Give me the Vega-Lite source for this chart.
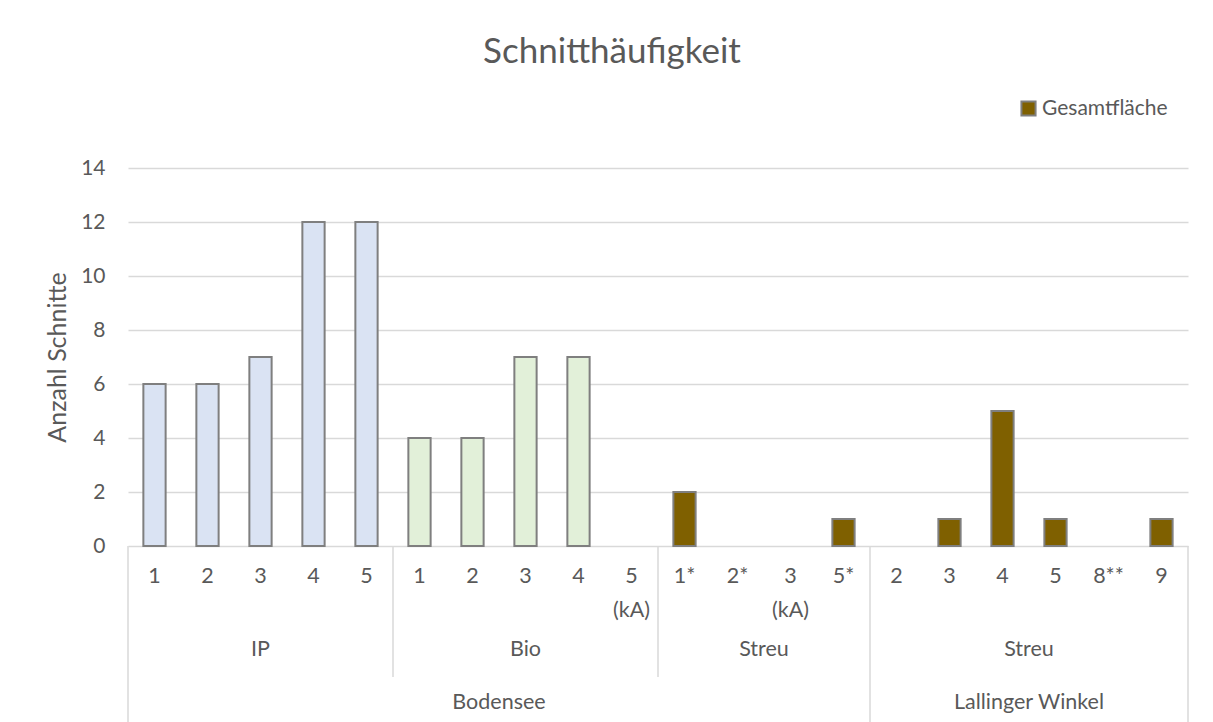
{
  "$schema": "https://vega.github.io/schema/vega-lite/v6.json",
  "width": 1060,
  "height": 378,
  "autosize": {"type": "none"},
  "padding": {"left": 128, "top": 168, "right": 25, "bottom": 176},
  "background": "white",
  "title": {
    "text": "Schnitthäufigkeit",
    "frame": "group",
    "anchor": "middle",
    "dx": -46,
    "offset": 0,
    "baseline": "alphabetic",
    "font": "Lato",
    "fontSize": 35,
    "fontWeight": "normal",
    "color": "#595959"
  },
  "config": {"view": {"stroke": null}, "font": "Lato"},
  "datasets": {
    "balken": [
      {"key": "01", "region": "Bodensee", "gruppe": "IP", "label": "1", "n": 6, "serie": "Gesamtfläche"},
      {"key": "02", "region": "Bodensee", "gruppe": "IP", "label": "2", "n": 6, "serie": "Gesamtfläche"},
      {"key": "03", "region": "Bodensee", "gruppe": "IP", "label": "3", "n": 7, "serie": "Gesamtfläche"},
      {"key": "04", "region": "Bodensee", "gruppe": "IP", "label": "4", "n": 12, "serie": "Gesamtfläche"},
      {"key": "05", "region": "Bodensee", "gruppe": "IP", "label": "5", "n": 12, "serie": "Gesamtfläche"},
      {"key": "06", "region": "Bodensee", "gruppe": "Bio", "label": "1", "n": 4, "serie": "Gesamtfläche"},
      {"key": "07", "region": "Bodensee", "gruppe": "Bio", "label": "2", "n": 4, "serie": "Gesamtfläche"},
      {"key": "08", "region": "Bodensee", "gruppe": "Bio", "label": "3", "n": 7, "serie": "Gesamtfläche"},
      {"key": "09", "region": "Bodensee", "gruppe": "Bio", "label": "4", "n": 7, "serie": "Gesamtfläche"},
      {"key": "10", "region": "Bodensee", "gruppe": "Bio", "label": "5\n(kA)", "n": 0, "serie": "Gesamtfläche"},
      {"key": "11", "region": "Bodensee", "gruppe": "Streu", "label": "1*", "n": 2, "serie": "Gesamtfläche"},
      {"key": "12", "region": "Bodensee", "gruppe": "Streu", "label": "2*", "n": 0, "serie": "Gesamtfläche"},
      {"key": "13", "region": "Bodensee", "gruppe": "Streu", "label": "3\n(kA)", "n": 0, "serie": "Gesamtfläche"},
      {"key": "14", "region": "Bodensee", "gruppe": "Streu", "label": "5*", "n": 1, "serie": "Gesamtfläche"},
      {"key": "15", "region": "Lallinger Winkel", "gruppe": "Streu", "label": "2", "n": 0, "serie": "Gesamtfläche"},
      {"key": "16", "region": "Lallinger Winkel", "gruppe": "Streu", "label": "3", "n": 1, "serie": "Gesamtfläche"},
      {"key": "17", "region": "Lallinger Winkel", "gruppe": "Streu", "label": "4", "n": 5, "serie": "Gesamtfläche"},
      {"key": "18", "region": "Lallinger Winkel", "gruppe": "Streu", "label": "5", "n": 1, "serie": "Gesamtfläche"},
      {"key": "19", "region": "Lallinger Winkel", "gruppe": "Streu", "label": "8**", "n": 0, "serie": "Gesamtfläche"},
      {"key": "20", "region": "Lallinger Winkel", "gruppe": "Streu", "label": "9", "n": 1, "serie": "Gesamtfläche"}
    ],
    "gruppen": [
      {"key": "03", "name": "IP", "ebene": "Gruppe", "lage": "mitte"},
      {"key": "08", "name": "Bio", "ebene": "Gruppe", "lage": "mitte"},
      {"key": "12", "name": "Streu", "ebene": "Gruppe", "lage": "grenze"},
      {"key": "17", "name": "Streu", "ebene": "Gruppe", "lage": "grenze"},
      {"key": "07", "name": "Bodensee", "ebene": "Region", "lage": "grenze"},
      {"key": "17", "name": "Lallinger Winkel", "ebene": "Region", "lage": "grenze"}
    ],
    "trenner": [
      {"key": "05", "ebene": "Gruppe", "seite": "rechts"},
      {"key": "10", "ebene": "Gruppe", "seite": "rechts"},
      {"key": "14", "ebene": "Region", "seite": "rechts"},
      {"key": "20", "ebene": "Region", "seite": "rechts"},
      {"key": "01", "ebene": "Region", "seite": "links"}
    ]
  },
  "layer": [
    {
      "data": {"name": "balken"},
      "transform": [{"filter": "datum.n > 0"}],
      "mark": {"type": "bar", "width": {"band": 0.42}, "strokeWidth": 2},
      "encoding": {
        "x": {
          "field": "key",
          "type": "nominal",
          "scale": {
            "domain": ["01","02","03","04","05","06","07","08","09","10","11","12","13","14","15","16","17","18","19","20"],
            "paddingInner": 0,
            "paddingOuter": 0
          },
          "axis": null
        },
        "y": {
          "field": "n",
          "type": "quantitative",
          "scale": {"domain": [0, 14], "nice": false},
          "axis": {
            "values": [0, 2, 4, 6, 8, 10, 12, 14],
            "title": "Anzahl Schnitte",
            "grid": true,
            "gridColor": "#D9D9D9",
            "gridWidth": 1.5,
            "domain": false,
            "ticks": false,
            "labelPadding": 23,
            "labelFont": "Lato",
            "labelFontSize": 21,
            "labelColor": "#595959",
            "titleFont": "Lato",
            "titleFontSize": 25,
            "titleFontWeight": "normal",
            "titleColor": "#595959",
            "titlePadding": 10
          }
        },
        "fill": {
          "field": "gruppe",
          "type": "nominal",
          "scale": {"domain": ["IP", "Bio", "Streu"], "range": ["#DAE3F3", "#E2F0D9", "#7F6000"]},
          "legend": null
        },
        "stroke": {
          "field": "serie",
          "type": "nominal",
          "scale": {"range": ["#7F7F7F"]},
          "legend": {
            "title": null,
            "orient": "none",
            "legendX": 890,
            "legendY": -70,
            "symbolType": "square",
            "symbolFillColor": "#7F6000",
            "symbolSize": 200,
            "symbolStrokeWidth": 2,
            "labelFont": "Lato",
            "labelFontSize": 21,
            "labelColor": "#595959",
            "labelOffset": 3
          }
        }
      }
    },
    {
      "data": {"name": "balken"},
      "mark": {"type": "text", "baseline": "top", "lineBreak": "\n", "lineHeight": 34, "fontSize": 21.5, "color": "#595959", "font": "Lato"},
      "encoding": {
        "x": {"field": "key", "type": "nominal"},
        "y": {"datum": -0.74},
        "text": {"field": "label"}
      }
    },
    {
      "data": {"name": "gruppen"},
      "transform": [{"filter": "datum.ebene == 'Gruppe' && datum.lage == 'mitte'"}],
      "mark": {"type": "text", "baseline": "middle", "fontSize": 21.5, "color": "#595959", "font": "Lato"},
      "encoding": {
        "x": {"field": "key", "type": "nominal", "bandPosition": 0.5},
        "y": {"datum": -3.85},
        "text": {"field": "name"}
      }
    },
    {
      "data": {"name": "gruppen"},
      "transform": [{"filter": "datum.ebene == 'Gruppe' && datum.lage == 'grenze'"}],
      "mark": {"type": "text", "baseline": "middle", "fontSize": 21.5, "color": "#595959", "font": "Lato"},
      "encoding": {
        "x": {"field": "key", "type": "nominal", "bandPosition": 1},
        "y": {"datum": -3.85},
        "text": {"field": "name"}
      }
    },
    {
      "data": {"name": "gruppen"},
      "transform": [{"filter": "datum.ebene == 'Region'"}],
      "mark": {"type": "text", "baseline": "middle", "fontSize": 21.5, "color": "#595959", "font": "Lato"},
      "encoding": {
        "x": {"field": "key", "type": "nominal", "bandPosition": 1},
        "y": {"datum": -5.8},
        "text": {"field": "name"}
      }
    },
    {
      "data": {"name": "trenner"},
      "transform": [{"filter": "datum.ebene == 'Gruppe'"}],
      "mark": {"type": "rule", "color": "#D9D9D9", "strokeWidth": 1.5},
      "encoding": {
        "x": {"field": "key", "type": "nominal", "bandPosition": 1},
        "y": {"datum": 0},
        "y2": {"datum": -4.85}
      }
    },
    {
      "data": {"name": "trenner"},
      "transform": [{"filter": "datum.ebene == 'Region' && datum.seite == 'rechts'"}],
      "mark": {"type": "rule", "color": "#D9D9D9", "strokeWidth": 1.5},
      "encoding": {
        "x": {"field": "key", "type": "nominal", "bandPosition": 1},
        "y": {"datum": 0},
        "y2": {"datum": -7}
      }
    },
    {
      "data": {"name": "trenner"},
      "transform": [{"filter": "datum.seite == 'links'"}],
      "mark": {"type": "rule", "color": "#D9D9D9", "strokeWidth": 1.5},
      "encoding": {
        "x": {"field": "key", "type": "nominal", "bandPosition": 0},
        "y": {"datum": 0},
        "y2": {"datum": -7}
      }
    }
  ]
}
